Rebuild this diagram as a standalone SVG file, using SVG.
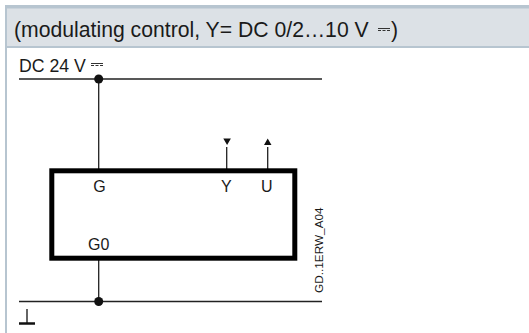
<svg xmlns="http://www.w3.org/2000/svg" width="529" height="333" viewBox="0 0 529 333">
<style>
text{font-family:"Liberation Sans",Arial,sans-serif;fill:#1a1a1a}
.t{font-size:16px}
.h{font-size:21.2px}
.w{stroke:#222;stroke-width:1.3;fill:none}
.d{stroke:#333;stroke-width:1;fill:none}
</style>
<rect width="529" height="333" fill="#fff"/>
<g id="panel">
<rect x="5" y="5" width="524" height="42" fill="#dce1e6"/>
<rect x="5" y="5" width="524" height="3.500" fill="#b7c5d0"/>
<rect x="5" y="46" width="524" height="2" fill="#b7c5d0"/>
<rect x="5" y="5" width="2" height="328" fill="#b7c5d0"/>
<text class="h" x="14" y="36.500">(modulating control, Y= DC 0/2…10 V</text>
<text class="h" x="391" y="36.500">)</text>
<path class="d" d="M378 28.500h12M378 30.500h3M382.500 30.500h3M387 30.500h3"/>
</g>
<g id="connectors">
<path class="w" d="M19 79H322M98.700 79V169M19 301.500H322M98.700 260V301.500M226.700 147V169M267.700 147V169"/>
<path fill="#111" d="M223.300 138.500h7.600l-3.800 6.500zM264 145l3.700-6.500 3.800 6.500z"/>
<circle cx="98.700" cy="79" r="4.500" fill="#111"/>
<circle cx="98.700" cy="301.500" r="4.500" fill="#111"/>
</g>
<g id="supply">
<text x="19" y="71.500" font-size="17.700">DC 24 V</text>
<path class="d" d="M91 63.500h12M91 65.500h3M95.500 65.500h3M100 65.500h3"/>
</g>
<g id="ground">
<path stroke="#111" stroke-width="2.500" fill="none" d="M19 323.500H35"/>
<path stroke="#111" stroke-width="1.300" fill="none" d="M27 309V323"/>
</g>
<g id="device">
<rect x="51.800" y="170.800" width="243" height="87.400" fill="none" stroke="#000" stroke-width="5"/>
<text class="t" x="93.300" y="192">G</text>
<text class="t" x="221" y="192">Y</text>
<text class="t" x="261" y="192">U</text>
<text class="t" x="88" y="250">G0</text>
</g>
<g id="code">
<text font-size="11.800" transform="translate(323 293) rotate(-90)">GD..1ERW_A04</text>
</g>
</svg>
